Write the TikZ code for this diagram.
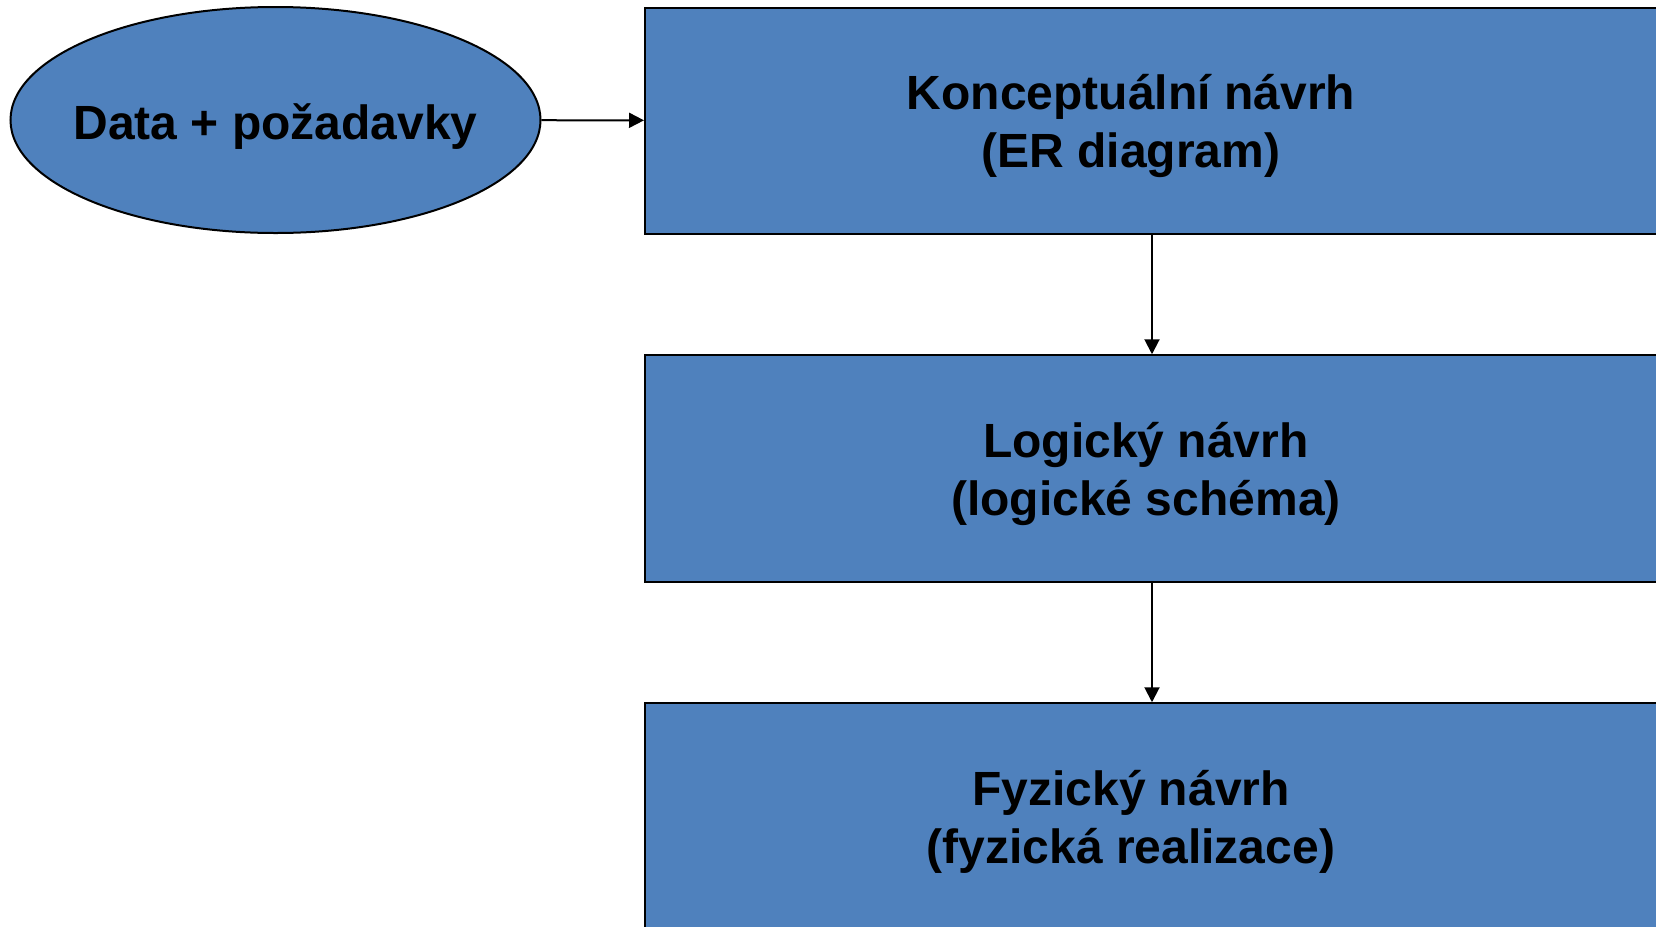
\documentclass[tikz,border=0pt]{standalone}
\usepackage{fontspec}
\setmainfont{Liberation Sans}
\usetikzlibrary{arrows.meta,shapes.geometric}
\definecolor{stepblue}{HTML}{4F81BD}
\tikzset{
  stepbox/.style={shape=rectangle, draw=black, fill=stepblue, line width=1pt, minimum width=507pt, minimum height=113.25pt, inner sep=0pt},
  steptext/.style={align=center, inner sep=0pt, font=\fontsize{24}{29}\selectfont\bfseries},
  flow/.style={-{Triangle[length=7.5pt,width=7.5pt]}, line width=1pt, draw=black}
}
\begin{document}
\begin{tikzpicture}[x=0.5pt, y=-0.5pt]
\useasboundingbox (0,0) rectangle (1656,927);
\node[shape=ellipse, draw=black, fill=stepblue, line width=1pt, minimum width=265pt, minimum height=113pt, inner sep=0pt] (D) at (275.5,120) {};
\node[steptext] (Dt) at ([yshift=-3.5pt]D.center) {Data + požadavky};
\node[stepbox] (K) at (1152,120.75) {};
\node[steptext] (Kt) at ([xshift=-10.5pt, yshift=-2.5pt]K.center) {Konceptuální návrh\\(ER diagram)};
\node[stepbox] (L) at (1152,468.5) {};
\node[steptext] (Lt) at ([xshift=-3pt, yshift=-2.5pt]L.center) {Logický návrh\\(logické schéma)};
\node[stepbox] (F) at (1152,816.5) {};
\node[steptext] (Ft) at ([xshift=-10.5pt, yshift=-2.5pt]F.center) {Fyzický návrh\\(fyzická realizace)};
\path [flow] (D) edge (K);
\path [flow] (K) edge (L);
\path [flow] (L) edge (F);
\end{tikzpicture}
\end{document}
